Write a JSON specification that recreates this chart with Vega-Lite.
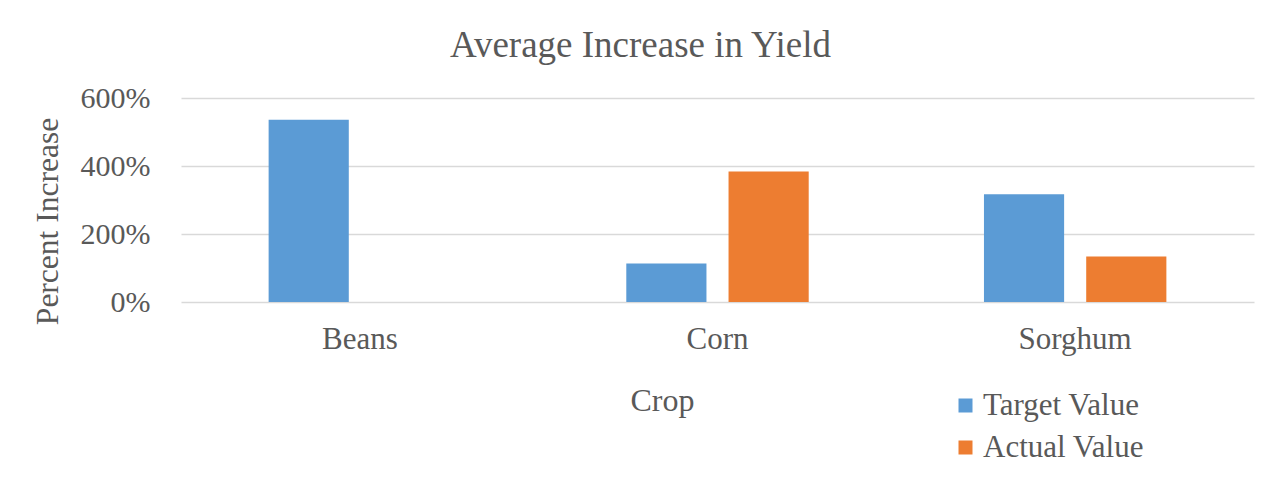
{
  "$schema": "https://vega.github.io/schema/vega-lite/v6.json",
  "autosize": "none",
  "width": 1073,
  "height": 204,
  "padding": {"left": 181, "top": 98, "right": 29, "bottom": 200},
  "background": "white",
  "title": {
    "text": "Average Increase in Yield",
    "font": "Liberation Serif",
    "fontSize": 37,
    "fontWeight": "normal",
    "color": "#595959",
    "anchor": "middle",
    "dx": -77,
    "offset": 18
  },
  "data": {
    "values": [
      {"crop": "Beans", "series": "Target Value", "value": 5.36},
      {"crop": "Beans", "series": "Actual Value", "value": 0},
      {"crop": "Corn", "series": "Target Value", "value": 1.13},
      {"crop": "Corn", "series": "Actual Value", "value": 3.84},
      {"crop": "Sorghum", "series": "Target Value", "value": 3.17},
      {"crop": "Sorghum", "series": "Actual Value", "value": 1.34}
    ]
  },
  "mark": {"type": "bar"},
  "encoding": {
    "x": {
      "field": "crop",
      "type": "nominal",
      "sort": ["Beans", "Corn", "Sorghum"],
      "scale": {"paddingInner": 0.49, "paddingOuter": 0.245},
      "axis": {
        "title": "Crop",
        "labelAngle": 0,
        "domain": false,
        "ticks": false,
        "labelFont": "Liberation Serif",
        "labelFontSize": 31,
        "labelColor": "#595959",
        "labelPadding": 22,
        "titleFont": "Liberation Serif",
        "titleFontSize": 32,
        "titleFontWeight": "normal",
        "titleColor": "#595959",
        "titleX": 481,
        "titleY": 98,
        "titleAlign": "center",
        "titleBaseline": "middle"
      }
    },
    "xOffset": {
      "field": "series",
      "type": "nominal",
      "sort": ["Target Value", "Actual Value"],
      "scale": {"paddingInner": 0.216, "paddingOuter": 0}
    },
    "y": {
      "field": "value",
      "type": "quantitative",
      "scale": {"domain": [0, 6]},
      "axis": {
        "title": "Percent Increase",
        "values": [0, 2, 4, 6],
        "format": ".0%",
        "domain": false,
        "ticks": false,
        "grid": true,
        "gridColor": "#d9d9d9",
        "gridWidth": 1.5,
        "labelFont": "Liberation Serif",
        "labelFontSize": 30,
        "labelColor": "#595959",
        "labelPadding": 31,
        "titleFont": "Liberation Serif",
        "titleFontSize": 31.5,
        "titleFontWeight": "normal",
        "titleColor": "#595959",
        "titleAngle": -90,
        "titleX": -133,
        "titleY": 123,
        "titleAlign": "center",
        "titleBaseline": "middle"
      }
    },
    "color": {
      "field": "series",
      "type": "nominal",
      "sort": ["Target Value", "Actual Value"],
      "scale": {"domain": ["Target Value", "Actual Value"], "range": ["#5B9BD5", "#ED7D31"]},
      "legend": {
        "title": null,
        "orient": "none",
        "legendX": 769,
        "legendY": 292,
        "symbolType": "square",
        "symbolSize": 196,
        "symbolStrokeWidth": 0,
        "labelFont": "Liberation Serif",
        "labelFontSize": 31,
        "labelColor": "#595959",
        "labelOffset": 2,
        "labelLimit": 400,
        "rowPadding": 10
      }
    }
  },
  "config": {"view": {"stroke": null}}
}
